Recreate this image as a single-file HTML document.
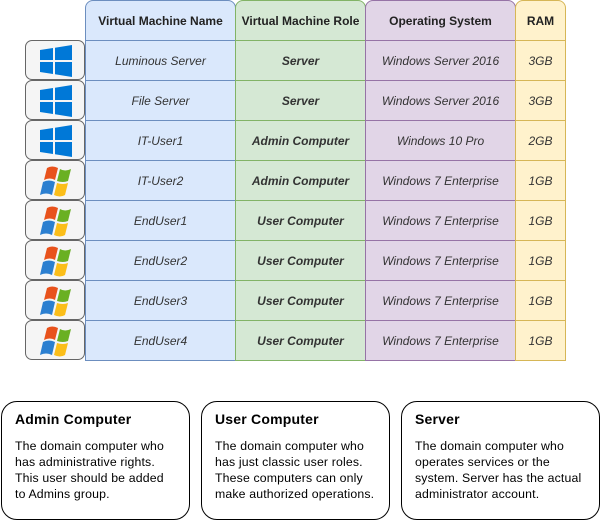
<!DOCTYPE html>
<html><head><meta charset="utf-8"><style>
body{margin:0;width:601px;height:521px;background:#fff;position:relative;font-family:"Liberation Sans",Arial,sans-serif;overflow:hidden}
.c{position:absolute;box-sizing:border-box;display:flex;align-items:center;justify-content:center;font-size:12px;color:#333;font-style:italic}
.h{font-weight:bold;font-style:normal;border-radius:8px 8px 0 0;color:#222}
.b{font-weight:bold}
.n{background:#dae8fc;border:1px solid #6c8ebf}
.r{background:#d5e8d4;border:1px solid #82b366}
.o{background:#e1d5e7;border:1px solid #9673a6}
.m{background:#fff2cc;border:1px solid #d6b656}
.i{position:absolute;left:25px;width:60px;height:40px;box-sizing:border-box;background:#f5f5f5;border:1px solid #666;border-radius:7px}
.i svg{position:absolute;left:13px;top:3px}
.box{position:absolute;top:401px;height:119px;box-sizing:border-box;border:1px solid #000;border-radius:16px;padding:9px 13px;color:#000}
.box .t{font-weight:bold;font-size:14px;line-height:16px;margin-bottom:11px;letter-spacing:0.2px}
.box .d{font-size:12.3px;line-height:16px;letter-spacing:0.15px}
</style></head><body>
<div class="c h n" style="left:85px;top:0;width:151px;height:41px">Virtual Machine Name</div>
<div class="c h r" style="left:235px;top:0;width:131px;height:41px">Virtual Machine Role</div>
<div class="c h o" style="left:365px;top:0;width:151px;height:41px">Operating System</div>
<div class="c h m" style="left:515px;top:0;width:51px;height:41px">RAM</div>

<div class="c n" style="left:85px;top:40px;width:151px;height:41px">Luminous Server</div>
<div class="c r b" style="left:235px;top:40px;width:131px;height:41px">Server</div>
<div class="c o" style="left:365px;top:40px;width:151px;height:41px">Windows Server 2016</div>
<div class="c m" style="left:515px;top:40px;width:51px;height:41px">3GB</div>

<div class="c n" style="left:85px;top:80px;width:151px;height:41px">File Server</div>
<div class="c r b" style="left:235px;top:80px;width:131px;height:41px">Server</div>
<div class="c o" style="left:365px;top:80px;width:151px;height:41px">Windows Server 2016</div>
<div class="c m" style="left:515px;top:80px;width:51px;height:41px">3GB</div>

<div class="c n" style="left:85px;top:120px;width:151px;height:41px">IT-User1</div>
<div class="c r b" style="left:235px;top:120px;width:131px;height:41px">Admin Computer</div>
<div class="c o" style="left:365px;top:120px;width:151px;height:41px">Windows 10 Pro</div>
<div class="c m" style="left:515px;top:120px;width:51px;height:41px">2GB</div>

<div class="c n" style="left:85px;top:160px;width:151px;height:41px">IT-User2</div>
<div class="c r b" style="left:235px;top:160px;width:131px;height:41px">Admin Computer</div>
<div class="c o" style="left:365px;top:160px;width:151px;height:41px">Windows 7 Enterprise</div>
<div class="c m" style="left:515px;top:160px;width:51px;height:41px">1GB</div>

<div class="c n" style="left:85px;top:200px;width:151px;height:41px">EndUser1</div>
<div class="c r b" style="left:235px;top:200px;width:131px;height:41px">User Computer</div>
<div class="c o" style="left:365px;top:200px;width:151px;height:41px">Windows 7 Enterprise</div>
<div class="c m" style="left:515px;top:200px;width:51px;height:41px">1GB</div>

<div class="c n" style="left:85px;top:240px;width:151px;height:41px">EndUser2</div>
<div class="c r b" style="left:235px;top:240px;width:131px;height:41px">User Computer</div>
<div class="c o" style="left:365px;top:240px;width:151px;height:41px">Windows 7 Enterprise</div>
<div class="c m" style="left:515px;top:240px;width:51px;height:41px">1GB</div>

<div class="c n" style="left:85px;top:280px;width:151px;height:41px">EndUser3</div>
<div class="c r b" style="left:235px;top:280px;width:131px;height:41px">User Computer</div>
<div class="c o" style="left:365px;top:280px;width:151px;height:41px">Windows 7 Enterprise</div>
<div class="c m" style="left:515px;top:280px;width:51px;height:41px">1GB</div>

<div class="c n" style="left:85px;top:320px;width:151px;height:41px">EndUser4</div>
<div class="c r b" style="left:235px;top:320px;width:131px;height:41px">User Computer</div>
<div class="c o" style="left:365px;top:320px;width:151px;height:41px">Windows 7 Enterprise</div>
<div class="c m" style="left:515px;top:320px;width:51px;height:41px">1GB</div>

<div class="i" style="top:40px"><svg width="34" height="34" viewBox="0 0 34 34"><polygon points="1,6 14,4 14,16 1,16" fill="#0078d7"/><polygon points="16,3.7 33,1 33,16 16,16" fill="#0078d7"/><polygon points="1,18 14,18 14,30 1,28" fill="#0078d7"/><polygon points="16,18 33,18 33,33 16,30.3" fill="#0078d7"/></svg></div>
<div class="i" style="top:80px"><svg width="34" height="34" viewBox="0 0 34 34"><polygon points="1,6 14,4 14,16 1,16" fill="#0078d7"/><polygon points="16,3.7 33,1 33,16 16,16" fill="#0078d7"/><polygon points="1,18 14,18 14,30 1,28" fill="#0078d7"/><polygon points="16,18 33,18 33,33 16,30.3" fill="#0078d7"/></svg></div>
<div class="i" style="top:120px"><svg width="34" height="34" viewBox="0 0 34 34"><polygon points="1,6 14,4 14,16 1,16" fill="#0078d7"/><polygon points="16,3.7 33,1 33,16 16,16" fill="#0078d7"/><polygon points="1,18 14,18 14,30 1,28" fill="#0078d7"/><polygon points="16,18 33,18 33,33 16,30.3" fill="#0078d7"/></svg></div>
<svg width="0" height="0" style="position:absolute"><defs><g id="w7"><path d="M8,4 Q13,1 19,4 L16,16 Q11,13 5,16 Z" fill="#e8521c"/><path d="M21,5 Q26,8 32,5 L29,17 Q24,19 18,17 Z" fill="#6ab023"/><path d="M4,18 Q10,15 16,18 L13,31 Q7,28 1,31 Z" fill="#2b7fd0"/><path d="M18,19 Q24,21 29,19 L26,31 Q21,34 15,31 Z" fill="#fbbe19"/></g></defs></svg>
<div class="i" style="top:160px"><svg width="34" height="34"><use href="#w7"/></svg></div>
<div class="i" style="top:200px"><svg width="34" height="34"><use href="#w7"/></svg></div>
<div class="i" style="top:240px"><svg width="34" height="34"><use href="#w7"/></svg></div>
<div class="i" style="top:280px"><svg width="34" height="34"><use href="#w7"/></svg></div>
<div class="i" style="top:320px"><svg width="34" height="34"><use href="#w7"/></svg></div>

<div class="box" style="left:1px;width:189px"><div class="t">Admin Computer</div><div class="d">The domain computer who<br>has administrative rights.<br>This user should be added<br>to Admins group.</div></div>
<div class="box" style="left:201px;width:189px"><div class="t">User Computer</div><div class="d">The domain computer who<br>has just classic user roles.<br>These computers can only<br>make authorized operations.</div></div>
<div class="box" style="left:401px;width:199px"><div class="t">Server</div><div class="d">The domain computer who<br>operates services or the<br>system. Server has the actual<br>administrator account.</div></div>
</body></html>
